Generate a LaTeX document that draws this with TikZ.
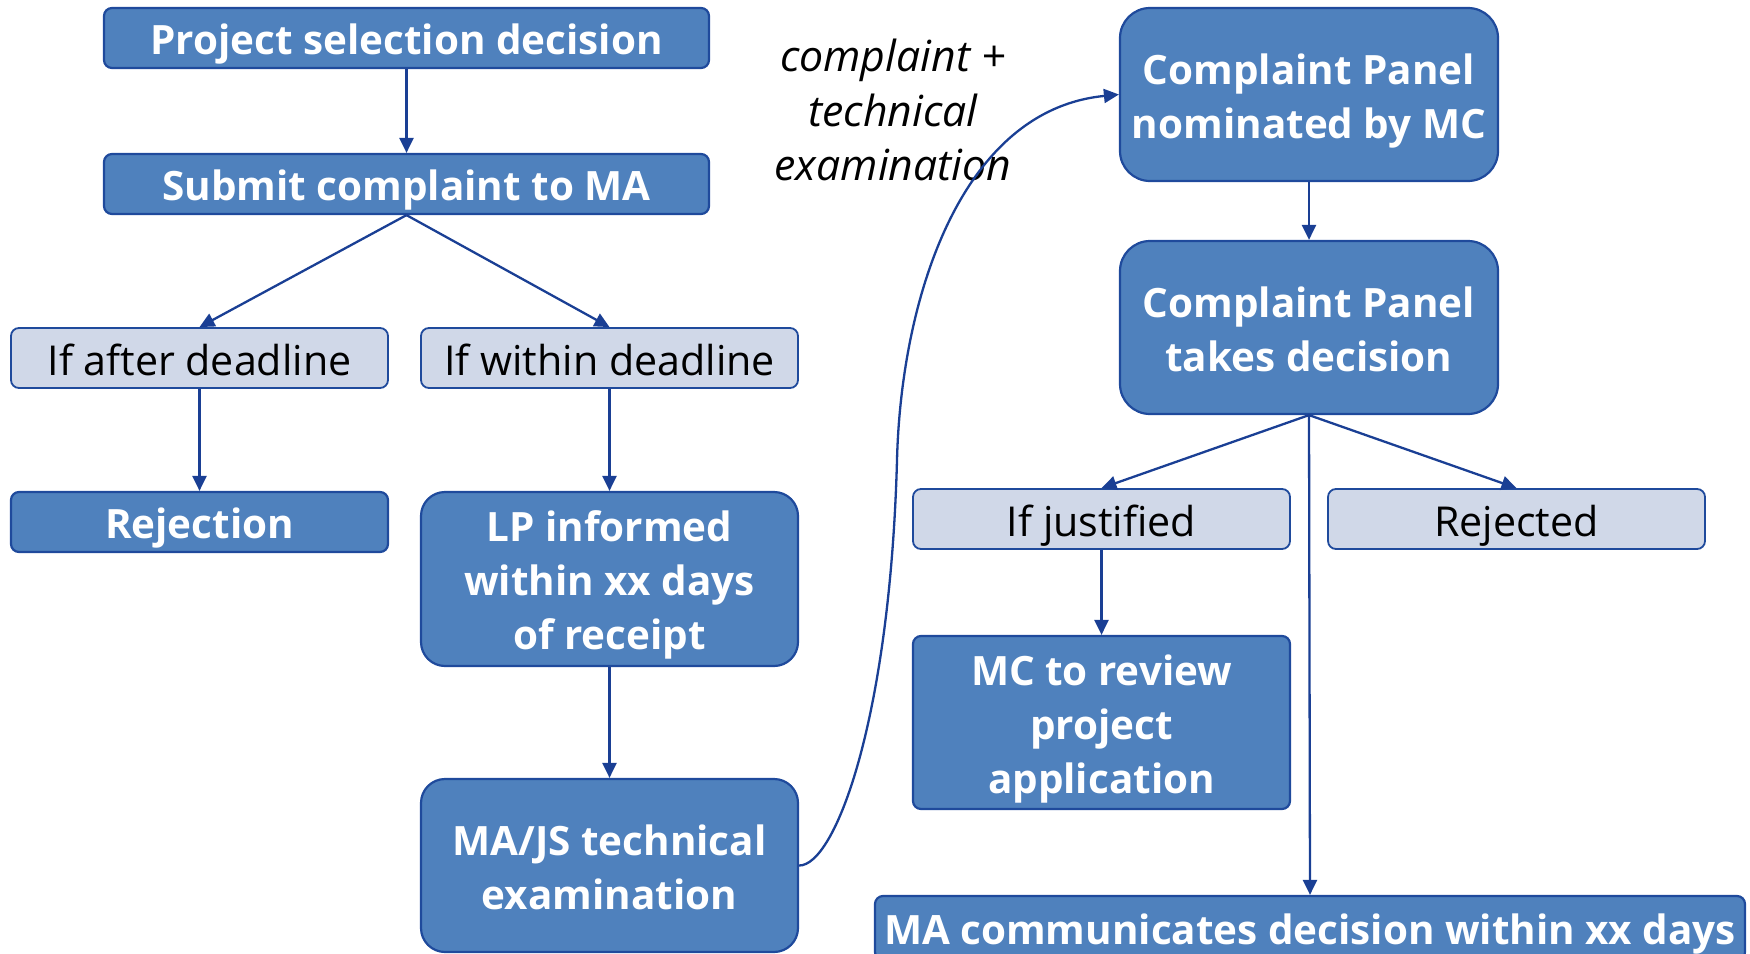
\documentclass[tikz,border=0pt]{standalone}
\usepackage{fontspec}
\setmainfont{Open Sans}
\usetikzlibrary{arrows.meta}
\definecolor{boxfill}{HTML}{4F81BD}
\definecolor{boxline}{HTML}{1F4A9C}
\definecolor{lightfill}{HTML}{D0D8E8}
\definecolor{arrowc}{HTML}{1A3F94}
\newcommand\tstr{\rule{0pt}{1.07em}}
\tikzset{
  txtpos/.style={execute at begin node={\tstr}, execute at end node={\vphantom{gjpy}}},
  dark/.style={draw=boxline, line width=1.1pt, fill=boxfill, text=white, align=center, inner sep=0pt,
    font=\fontsize{20.2pt}{27pt}\selectfont\bfseries, txtpos},
  light/.style={draw=boxline, line width=0.9pt, fill=lightfill, text=black, align=center, inner sep=0pt,
    font=\fontsize{20.6pt}{27pt}\selectfont, rounded corners=4pt, minimum width=188.5pt, minimum height=30pt, txtpos},
  smallr/.style={rounded corners=4pt},
  bigr/.style={rounded corners=12pt},
  conn/.style={draw=arrowc, line width=1.15pt, -{Triangle[length=7.5pt,width=7pt]}},
}
\begin{document}
\begin{tikzpicture}[x=0.5pt,y=-0.5pt]
\useasboundingbox (0,0) rectangle (1750,953);
\clip (0,0) rectangle (1750,953);
% left column
\node[dark, smallr, minimum width=302.5pt, minimum height=30pt] (ps) at (406.5,38) {Project selection decision};
\node[dark, smallr, minimum width=302.5pt, minimum height=30pt] (sc) at (406.5,184) {Submit complaint to MA};
\node[light] (ia) at (199.5,358) {If after deadline};
\node[light] (iw) at (609.5,358) {If within deadline};
\node[dark, smallr, minimum width=188.5pt, minimum height=30pt] (rj) at (199.5,522) {Rejection};
\node[dark, bigr, minimum width=188.5pt, minimum height=87pt] (lp) at (609.5,579) {\tstr LP informed\\within xx days\\of receipt};
\node[dark, bigr, minimum width=188.5pt, minimum height=86.5pt] (mj) at (609.5,865.5) {\tstr MA/JS technical\\examination};
% right column
\node[dark, rounded corners=15pt, minimum width=189pt, minimum height=86.5pt] (cp1) at (1309,94.5) {\tstr Complaint Panel\\nominated by MC};
\node[dark, rounded corners=15pt, minimum width=189pt, minimum height=86.5pt] (cp2) at (1309,327.5) {\tstr Complaint Panel\\takes decision};
\node[light] (ij) at (1101.5,519) {If justified};
\node[light] (rd) at (1516.5,519) {Rejected};
\node[dark, smallr, minimum width=188.5pt, minimum height=86.5pt] (mc) at (1101.5,722.5) {\tstr MC to review\\project\\application};
\node[dark, smallr, minimum width=435pt, minimum height=32pt] (ma) at (1310,928) {MA communicates decision within xx days};
% label
\node[align=center, font=\fontsize{21.4pt}{27.4pt}\selectfont\itshape] (lbl) at (893,110) {complaint +\\technical\\examination};
% connectors
\draw[conn] (ps) -- (sc);
\draw[conn] (sc.south) -- (ia.north);
\draw[conn] (sc.south) -- (iw.north);
\draw[conn] (ia) -- (rj);
\draw[conn] (iw) -- (lp);
\draw[conn] (lp) -- (mj);
\coordinate (mid) at (897,460);
\draw[conn] (mj.east) .. controls (835,866) and (890,720) .. (mid) .. controls (901,300) and (960,110) .. (cp1.west);
\draw[conn] (cp1) -- (cp2);
\draw[conn] (cp2.south) -- (ij.north);
\draw[conn] (cp2.south) -- (rd.north);
\draw[conn] (cp2.south) -- (ma.north);
\draw[conn] (ij) -- (mc);
\end{tikzpicture}
\end{document}
